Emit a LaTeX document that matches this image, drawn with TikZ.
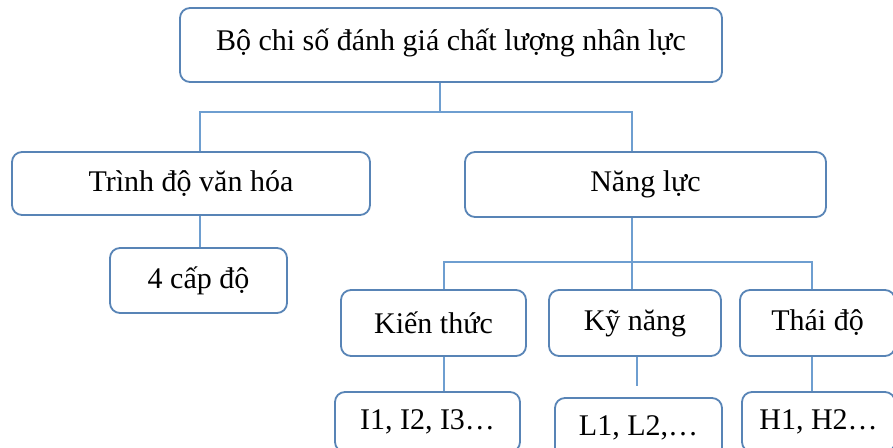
\documentclass[tikz,border=0pt]{standalone}
\usepackage{fontspec}
\setmainfont{Liberation Serif}
\definecolor{boxc}{RGB}{88,132,182}
\definecolor{linec}{RGB}{110,158,208}
\begin{document}
\begin{tikzpicture}[x=1pt,y=-1pt,
  box/.style={draw=boxc, line width=1.8pt, rounded corners=10pt, fill=white,
    font=\fontsize{30}{34}\selectfont, inner sep=0pt},
  conn/.style={draw=linec, line width=1.8pt}]
\useasboundingbox (0,0) rectangle (893,447);
\clip (0,0) rectangle (893,447);
\node[box, minimum width=542pt, minimum height=74pt] (top) at (451,45) {\raisebox{10pt}{Bộ chi số đánh giá chất lượng nhân lực}};
\node[box, minimum width=358pt, minimum height=63pt] (tdvh) at (191,183.5) {Trình độ văn hóa};
\node[box, minimum width=361pt, minimum height=65pt] (nl) at (645.5,184.5) {Năng lực};
\node[box, minimum width=177pt, minimum height=65pt] (cap) at (198.5,280.5) {4 cấp độ};
\node[box, minimum width=185pt, minimum height=66pt] (kt) at (433.5,323) {Kiến thức};
\node[box, minimum width=172pt, minimum height=66pt] (kn) at (635,323) {Kỹ năng};
\node[box, minimum width=155pt, minimum height=66pt] (td) at (817.5,323) {Thái độ};
\node[box, minimum width=185pt, minimum height=60pt] (ii) at (427.5,422) {I1, I2, I3…};
\node[box, minimum width=167pt, minimum height=60pt] (ll) at (638.5,428) {L1, L2,…};
\node[box, minimum width=153pt, minimum height=60pt] (hh) at (818.5,422) {H1, H2…};
\coordinate (j1) at (440,112);
\coordinate (a1) at (200,0);
\coordinate (a2) at (632,0);
\coordinate (j2) at (632,262);
\coordinate (b1) at (444,0);
\coordinate (b3) at (812,0);
\coordinate (k3) at (637,386);
\draw[conn] (top.south -| j1) -- (j1);
\draw[conn] (tdvh.north -| a1) |- (j1) -| (nl.north -| a2);
\draw[conn] (tdvh.south -| a1) -- (cap.north -| a1);
\draw[conn] (nl.south -| j2) -- (j2);
\draw[conn] (kt.north -| b1) |- (j2) -| (td.north -| b3);
\draw[conn] (j2) -- (kn.north -| j2);
\draw[conn] (kt.south -| b1) -- (ii.north -| b1);
\draw[conn] (kn.south -| k3) -- (k3);
\draw[conn] (td.south -| b3) -- (hh.north -| b3);
\end{tikzpicture}
\end{document}
